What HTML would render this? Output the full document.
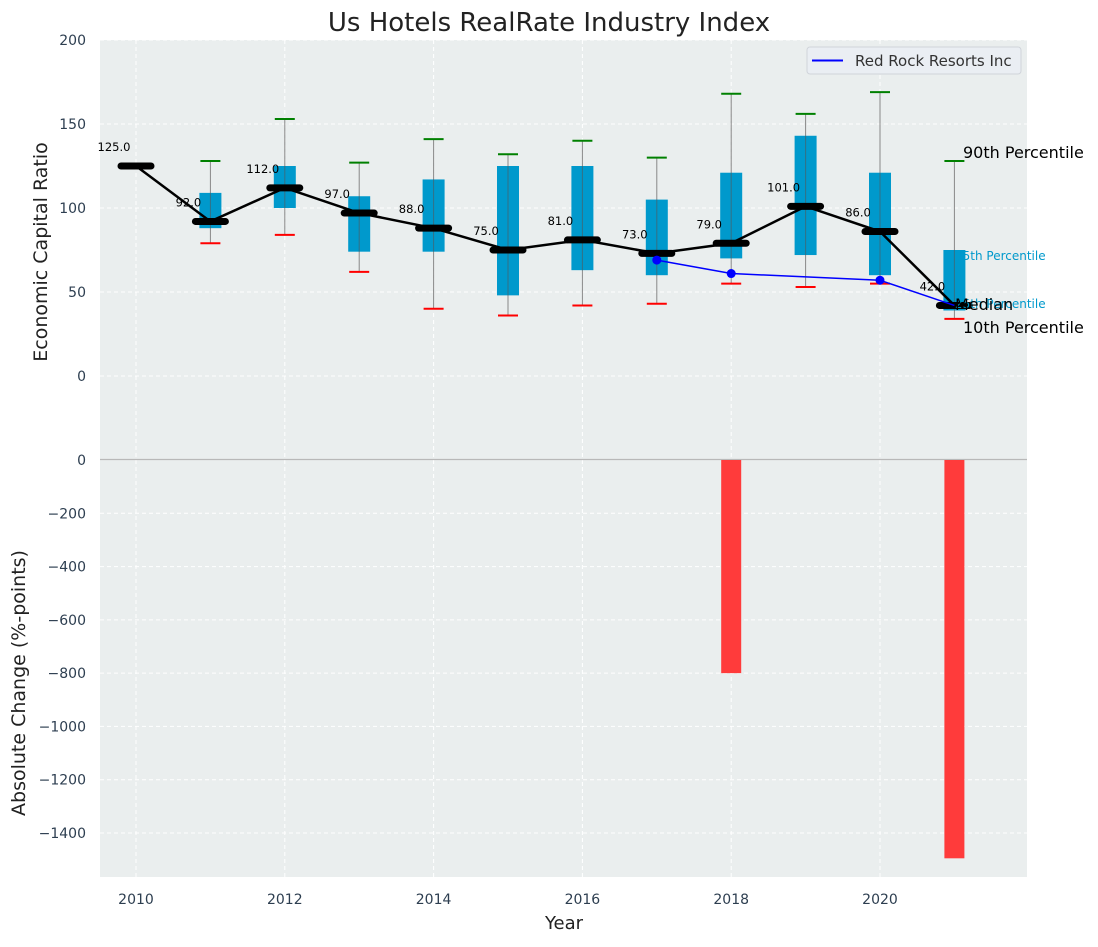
<!DOCTYPE html>
<html><head><meta charset="utf-8"><style>
body{margin:0;background:#fff;}
svg text{font-family:"DejaVu Sans","Liberation Sans",sans-serif;}
</style></head><body>
<svg id="c" width="1098" height="942" xmlns="http://www.w3.org/2000/svg"></svg>
<script>
const years=[2010,2011,2012,2013,2014,2015,2016,2017,2018,2019,2020,2021];
const medians=[125,92,112,97,88,75,81,73,79,101,86,42];
const q1=[null,88,100,74,74,48,63,60,70,72,60,39];
const q3=[null,109,125,107,117,125,125,105,121,143,121,75];
const p10=[null,79,84,62,40,36,42,43,55,53,55,34];
const p90=[null,128,153,127,141,132,140,130,168,156,169,128];
const rrYears=[2017,2018,2020,2021];
const rrValues=[69,61,57,42];
const rrMarkers=[true,true,true,false];
const chgYears=[2018,2021];
const chgValues=[-800,-1495];
const topTicks=[0,50,100,150,200];
const botTicks=[0,-200,-400,-600,-800,-1000,-1200,-1400];
const xTicks=[2010,2012,2014,2016,2018,2020];

const svg=document.getElementById('c');const NS='http://www.w3.org/2000/svg';
function el(t,a,p){const e=document.createElementNS(NS,t);for(const k in a)e.setAttribute(k,a[k]);(p||svg).appendChild(e);return e;}
const X=v=>136+(v-2010)*74.4;
const Y1=v=>376-v*1.68;
const Y2=v=>460-v*(373/1400);
const L=100,R=1027;
let e=el('rect',{x:L,y:40,width:R-L,height:419,fill:'#eaeeee'});

e=el('rect',{x:L,y:460,width:R-L,height:417,fill:'#eaeeee'});

topTicks.forEach(t=>{el('line',{x1:L,x2:R,y1:Y1(t),y2:Y1(t),stroke:'#fff','stroke-dasharray':'4,3'});
 e=el('text',{x:86,y:Y1(t)+5,'text-anchor':'end','font-size':14,fill:'#2d3e50'});e.textContent=t;
 });
botTicks.forEach(t=>{if(t!==0)el('line',{x1:L,x2:R,y1:Y2(t),y2:Y2(t),stroke:'#fff','stroke-dasharray':'4,3'});
 e=el('text',{x:86,y:Y2(t)+5,'text-anchor':'end','font-size':14,fill:'#2d3e50'});e.textContent=String(t).replace('-','\u2212');
 });
xTicks.forEach(t=>{el('line',{x1:X(t),x2:X(t),y1:40,y2:877,stroke:'#fff','stroke-dasharray':'4,3'});
 e=el('text',{x:X(t),y:904,'text-anchor':'middle','font-size':14,fill:'#2d3e50'});e.textContent=t;
 });
el('line',{x1:L,x2:R,y1:459.5,y2:459.5,stroke:'#b8b8b8','stroke-width':1.2});
years.forEach((yr,i)=>{if(q1[i]==null)return;const x=X(yr);
 e=el('line',{x1:x,x2:x,y1:Y1(p10[i]),y2:Y1(p90[i]),stroke:'#888','stroke-width':1});
 
 e=el('rect',{x:x-11,y:Y1(q3[i]),width:22,height:Y1(q1[i])-Y1(q3[i]),fill:'#0099cc'});
 
 el('line',{x1:x,x2:x,y1:Y1(q3[i]),y2:Y1(q1[i]),stroke:'#555','stroke-width':1,opacity:0.6});
 e=el('line',{x1:x-10,x2:x+10,y1:Y1(p90[i]),y2:Y1(p90[i]),stroke:'green','stroke-width':2});
 
 e=el('line',{x1:x-10,x2:x+10,y1:Y1(p10[i]),y2:Y1(p10[i]),stroke:'red','stroke-width':2});
 });
e=el('polyline',{points:years.map((y,i)=>X(y)+','+Y1(medians[i])).join(' '),fill:'none',stroke:'#000','stroke-width':2.5});

years.forEach((yr,i)=>{const x=X(yr),y=Y1(medians[i]);
 e=el('line',{x1:x-15,x2:x+15,y1:y,y2:y,stroke:'#000','stroke-width':7,'stroke-linecap':'round'});
 
 e=el('text',{x:x-22,y:y-15,'text-anchor':'middle','font-size':11.5,fill:'#000'});e.textContent=medians[i].toFixed(1);
 });
e=el('polyline',{points:rrYears.map((y,i)=>X(y)+','+Y1(rrValues[i])).join(' '),fill:'none',stroke:'blue','stroke-width':1.5});

rrYears.forEach((yr,i)=>{if(!rrMarkers[i])return;e=el('circle',{cx:X(yr),cy:Y1(rrValues[i]),r:4.5,fill:'blue'});
 });
const ann=[['75th Percentile',955,260,12,'#0099cc'],['25th Percentile',955,308,12,'#0099cc'],['90th Percentile',963,158,16,'#000'],['Median',955,310,16,'#000'],['10th Percentile',963,333,16,'#000']];
ann.forEach(a=>{e=el('text',{x:a[1],y:a[2],'font-size':a[3],fill:a[4]});e.textContent=a[0];
 });
chgYears.forEach((yr,i)=>{e=el('rect',{x:X(yr)-10,y:Y2(0),width:20,height:Y2(chgValues[i])-Y2(0),fill:'#ff3b3b'});
 });
const g=el('g',{});
el('rect',{x:807,y:47,width:214,height:27,rx:3,fill:'#eaeef3',stroke:'#d0d4da'},g);
el('line',{x1:812,x2:843,y1:60.5,y2:60.5,stroke:'blue','stroke-width':2},g);
e=el('text',{x:855,y:66,'font-size':15,fill:'#333'},g);e.textContent='Red Rock Resorts Inc';
e=el('text',{x:549,y:31,'text-anchor':'middle','font-size':26,fill:'#222'});e.textContent='Us Hotels RealRate Industry Index';

e=el('text',{x:564,y:929,'text-anchor':'middle','font-size':18,fill:'#222'});e.textContent='Year';

e=el('text',{x:0,y:0,'text-anchor':'middle','font-size':19,fill:'#222',transform:'translate(47,252) rotate(-90)'});e.textContent='Economic Capital Ratio';

e=el('text',{x:0,y:0,'text-anchor':'middle','font-size':19,fill:'#222',transform:'translate(25,683) rotate(-90)'});e.textContent='Absolute Change (%-points)';

</script>
</body></html>
